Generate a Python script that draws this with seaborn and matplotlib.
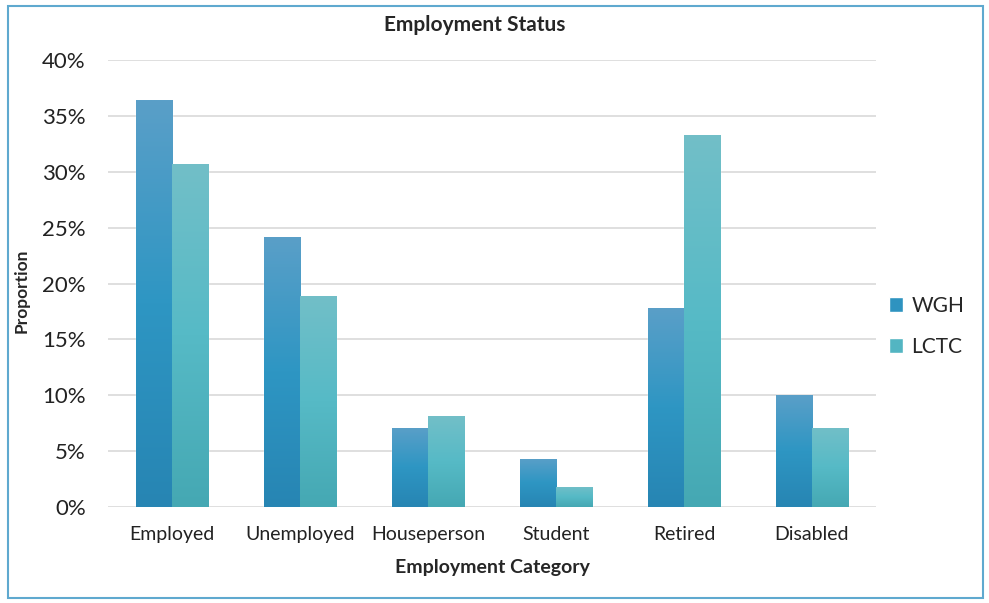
import numpy as np
import pandas as pd
import seaborn as sns
import matplotlib.pyplot as plt
from matplotlib.colors import LinearSegmentedColormap
from matplotlib.patches import Rectangle

categories = ["Employed", "Unemployed", "Houseperson", "Student", "Retired", "Disabled"]
wgh = [36.4, 24.2, 7.1, 4.3, 17.8, 10.0]
lctc = [30.7, 18.9, 8.1, 1.8, 33.3, 7.1]
series = ["WGH", "LCTC"]
yticks = [0, 5, 10, 15, 20, 25, 30, 35, 40]

df = pd.DataFrame({
    "Category": categories * 2,
    "Value": wgh + lctc,
    "Series": ["WGH"] * len(categories) + ["LCTC"] * len(categories),
})

sns.set_theme(style="white")
plt.rcParams["font.family"] = ["Lato", "DejaVu Sans"]

fig = plt.figure(figsize=(9.89, 6.03), dpi=100)
ax = fig.add_axes([108 / 989, 96 / 603, (876 - 108) / 989, (507 - 60) / 603])

palette = {"WGH": "#2e93c0", "LCTC": "#53b5c2"}
sns.barplot(data=df, x="Category", y="Value", hue="Series", order=categories,
            hue_order=series, palette=palette, width=0.57, saturation=1,
            ax=ax, legend=True)

# gradient fill for bars
grads = {
    "WGH": LinearSegmentedColormap.from_list("w", ["#2785b3", "#2e96c3", "#5a9fc8"]),
    "LCTC": LinearSegmentedColormap.from_list("l", ["#45a8b3", "#56bac6", "#72bfc8"]),
}
grad_img = np.linspace(0, 1, 256).reshape(-1, 1)
for cont, name in zip(ax.containers, series):
    for bar in cont:
        x0, y0 = bar.get_x(), bar.get_y()
        w, h = bar.get_width(), bar.get_height()
        im = ax.imshow(grad_img, cmap=grads[name], origin="lower", aspect="auto",
                       extent=[x0, x0 + w, y0, y0 + h], zorder=bar.get_zorder() + 0.1)
        im.set_clip_path(bar)

ax.set_xlim(-0.5, len(categories) - 0.5)
ax.set_ylim(0, 40)
ax.set_yticks(yticks)
ax.set_yticklabels([f"{v}%" for v in yticks], fontsize=16, color="#222222")
ax.tick_params(axis="x", labelsize=14, colors="#222222", pad=14, length=0)
ax.tick_params(axis="y", pad=16, length=0)
ax.grid(axis="y", color="#d9d9d9", linewidth=1.2)
ax.set_axisbelow(True)
for s in ax.spines.values():
    s.set_visible(False)

ax.set_xlabel("Employment Category", fontsize=14, fontweight="bold")
ax.xaxis.label.set_va("center")
ax.xaxis.set_label_coords((492 - 108) / 768, -(567 - 507) / 447)
ax.set_ylabel("Proportion", fontsize=12.5, fontweight="bold")
ax.yaxis.label.set_va("center")
ax.yaxis.label.set_ha("center")
ax.yaxis.set_label_coords(-(108 - 22) / 768, (507 - 291) / 447)
ax.set_title("Employment Status", fontsize=15, fontweight="bold", pad=21,
             x=(475 - 108) / (876 - 108))

leg = ax.legend(title=None, loc="center left", bbox_to_anchor=(0.992, 0.404),
                frameon=False, fontsize=15, handlelength=0.7, handleheight=0.7,
                handletextpad=0.4, labelspacing=1.0)
for h, name in zip(leg.legend_handles, series):
    h.set_facecolor(palette[name])

fig.patches.append(Rectangle((8 / 989, 5 / 603), 975 / 989, 592 / 603,
                             transform=fig.transFigure, fill=False,
                             edgecolor="#5fa9cf", linewidth=1.5))

fig.savefig("out.png", dpi=100)
